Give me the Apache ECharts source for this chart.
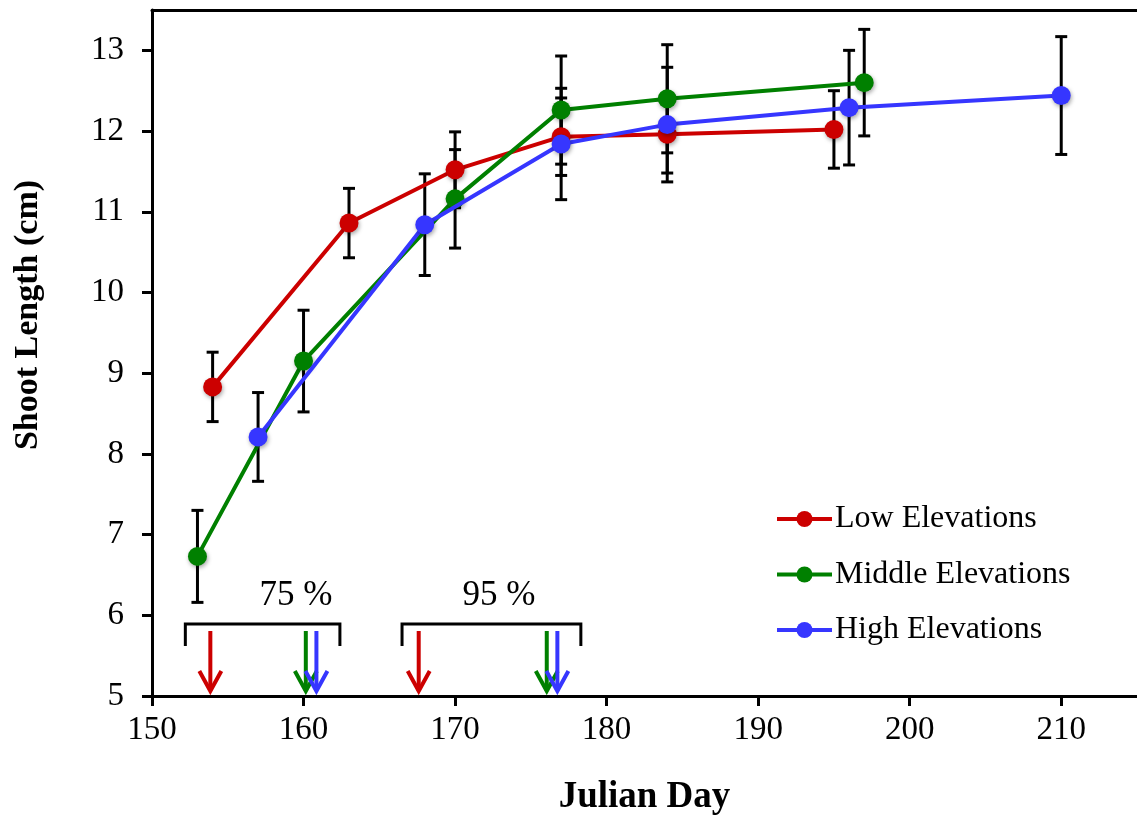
<!DOCTYPE html>
<html><head><meta charset="utf-8">
<script src="https://cdn.jsdelivr.net/npm/echarts@6/dist/echarts.min.js"></script>
<style>html,body{margin:0;padding:0;background:#fff}#c{width:1137px;height:821px}</style>
</head><body><div id="c"></div>
<script>
// ---- data ----
const xTicks = [150, 160, 170, 180, 190, 200, 210];
const yTicks = [5, 6, 7, 8, 9, 10, 11, 12, 13];
const seriesNames = ['Low Elevations', 'Middle Elevations', 'High Elevations'];
const xTitle = 'Julian Day';
const yTitle = 'Shoot Length (cm)';

const lowDays  = [154, 163, 170, 177, 184, 195];
const lowMean  = [8.83, 10.86, 11.52, 11.93, 11.96, 12.02];
const lowErr   = [0.43, 0.43, 0.47, 0.48, 0.48, 0.48];

const midDays  = [153, 160, 170, 177, 184, 197];
const midMean  = [6.73, 9.15, 11.16, 12.26, 12.40, 12.60];
const midErr   = [0.57, 0.63, 0.61, 0.67, 0.67, 0.66];

const highDays = [157, 168, 177, 184, 196, 210];
const highMean = [8.21, 10.84, 11.84, 12.08, 12.29, 12.44];
const highErr  = [0.55, 0.63, 0.69, 0.71, 0.71, 0.73];

// arrows: days when 75 % / 95 % reached (low, middle, high)
const arrowDays75 = [153.85, 160.15, 160.85];
const arrowDays95 = [167.6, 176.05, 176.75];
const bracket75 = [152.2, 162.4];
const bracket95 = [166.5, 178.3];
const bracketLabels = ['75 %', '95 %'];
const bracketLabelDays = [159.5, 172.9];

// ---- styling ----
const colors = ['#cc0000', '#008000', '#3636ff'];
const FONT = "'Liberation Serif', 'Times New Roman', serif";

const chart = echarts.init(document.getElementById('c'), null, {renderer: 'canvas'});

function pts(days, mean) { return days.map((d, i) => [d, mean[i]]); }
function errs(days, mean, err) { return days.map((d, i) => [d, mean[i] - err[i], mean[i] + err[i]]); }

function renderErr(params, api) {
  const x = api.value(0);
  const lo = api.coord([x, api.value(1)]);
  const hi = api.coord([x, api.value(2)]);
  const w = 6;
  const st = {stroke: '#000', lineWidth: 3};
  return {type: 'group', children: [
    {type: 'line', shape: {x1: lo[0], y1: lo[1], x2: hi[0], y2: hi[1]}, style: st},
    {type: 'line', shape: {x1: lo[0] - w, y1: lo[1], x2: lo[0] + w, y2: lo[1]}, style: st},
    {type: 'line', shape: {x1: hi[0] - w, y1: hi[1], x2: hi[0] + w, y2: hi[1]}, style: st}
  ]};
}

function renderArrow(params, api) {
  const p = api.coord([api.value(0), 5]);
  const color = colors[api.value(1)];
  const x = p[0], tipY = p[1] - 5, topY = p[1] - 65;
  return {type: 'group', children: [
    {type: 'line', shape: {x1: x, y1: topY, x2: x, y2: tipY}, style: {stroke: color, lineWidth: 4}},
    {type: 'polyline', shape: {points: [[x - 11, tipY - 20], [x, tipY], [x + 11, tipY - 20]]},
     style: {stroke: color, lineWidth: 4, fill: null}}
  ]};
}

function renderBracket(params, api) {
  const a = api.coord([api.value(0), 5]);
  const b = api.coord([api.value(1), 5]);
  const topY = a[1] - 72, endY = a[1] - 50;
  return {type: 'polyline',
    shape: {points: [[a[0], endY], [a[0], topY], [b[0], topY], [b[0], endY]]},
    style: {stroke: '#000', lineWidth: 3, fill: null}};
}

function renderLabel(params, api) {
  const p = api.coord([api.value(0), 5]);
  return {type: 'text', x: p[0], y: p[1] - 100,
    style: {text: bracketLabels[params.dataIndex], fill: '#000', font: '35px ' + FONT,
      align: 'center', verticalAlign: 'middle'}};
}

function lineSeries(idx, days, mean) {
  return {
    name: seriesNames[idx], type: 'line', data: pts(days, mean),
    symbol: 'circle', symbolSize: 19, z: 3 + idx,
    lineStyle: {color: colors[idx], width: 4},
    itemStyle: {color: colors[idx], shadowBlur: 4, shadowColor: 'rgba(0,0,0,0.35)', shadowOffsetX: 1, shadowOffsetY: 2},
    emphasis: {disabled: true}, animation: false
  };
}

function errSeries(days, mean, err) {
  return {type: 'custom', renderItem: renderErr, data: errs(days, mean, err),
    encode: {x: 0, y: [1, 2]}, z: 2, animation: false, silent: true};
}

const arrowData = arrowDays75.map((d, i) => [d, i]).concat(arrowDays95.map((d, i) => [d, i]));

const option = {
  backgroundColor: '#fff',
  animation: false,
  grid: {left: 152, right: 0, top: 10, bottom: 124},
  graphic: [{
    type: 'text', x: 28, y: 315, rotation: Math.PI / 2,
    style: {text: yTitle, font: 'bold 34px ' + FONT, fill: '#000', align: 'center', verticalAlign: 'middle'}
  }],
  xAxis: [{
    type: 'value', min: 150, max: 215, interval: 10,
    name: xTitle, nameLocation: 'middle', nameGap: 83,
    nameTextStyle: {fontFamily: FONT, fontWeight: 'bold', fontSize: 37, color: '#000'},
    axisLine: {show: true, onZero: false, lineStyle: {color: '#000', width: 3}},
    axisTick: {show: true, inside: false, length: 10, lineStyle: {color: '#000', width: 3}, customValues: xTicks},
    axisLabel: {fontFamily: FONT, fontSize: 33, color: '#000', margin: 18, customValues: xTicks,
      formatter: v => (xTicks.indexOf(v) >= 0 ? String(v) : '')},
    splitLine: {show: false}
  }, {
    type: 'value', min: 150, max: 215, position: 'top',
    axisLine: {show: true, onZero: false, lineStyle: {color: '#000', width: 3}},
    axisTick: {show: false}, axisLabel: {show: false}, splitLine: {show: false}
  }],
  yAxis: {
    type: 'value', min: 5, max: 13.5, interval: 1,
    axisLine: {show: true, onZero: false, lineStyle: {color: '#000', width: 3}},
    axisTick: {show: true, inside: false, length: 10, lineStyle: {color: '#000', width: 3}, customValues: yTicks},
    axisLabel: {fontFamily: FONT, fontSize: 33, color: '#000', margin: 28, customValues: yTicks,
      formatter: v => (yTicks.indexOf(v) >= 0 ? String(v) : '')},
    splitLine: {show: false}
  },
  legend: {
    data: seriesNames, orient: 'vertical', left: 775, top: 503, padding: 0,
    itemWidth: 55, itemHeight: 20, itemGap: 23.5,
    lineStyle: {width: 4},
    textStyle: {fontFamily: FONT, fontSize: 32, color: '#000', lineHeight: 32, padding: [0, 0, 0, -2]},
    selectedMode: false
  },
  series: [
    errSeries(lowDays, lowMean, lowErr),
    errSeries(midDays, midMean, midErr),
    errSeries(highDays, highMean, highErr),
    lineSeries(0, lowDays, lowMean),
    lineSeries(1, midDays, midMean),
    lineSeries(2, highDays, highMean),
    {type: 'custom', renderItem: renderBracket, data: [bracket75, bracket95], encode: {x: [0, 1]}, z: 2, silent: true},
    {type: 'custom', renderItem: renderArrow, data: arrowData, encode: {x: 0}, z: 2, silent: true},
    {type: 'custom', renderItem: renderLabel, data: bracketLabelDays.map(d => [d]), encode: {x: 0}, z: 2, silent: true}
  ]
};
chart.setOption(option);
</script>
</body></html>
